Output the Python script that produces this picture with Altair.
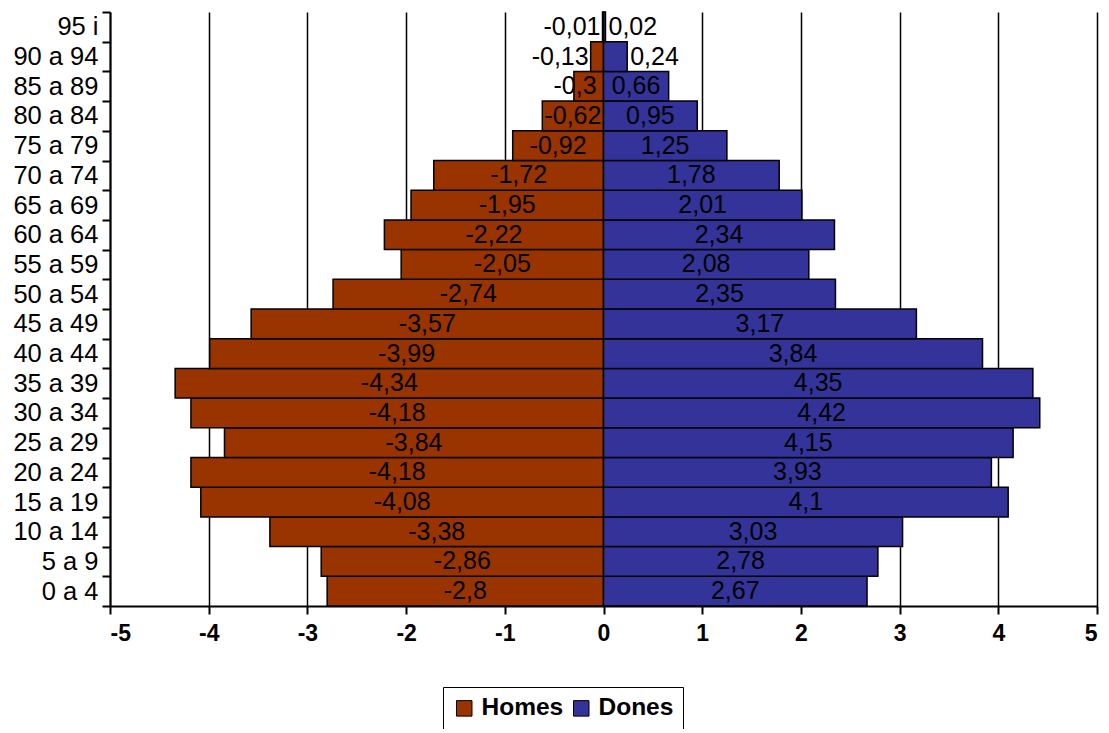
import altair as alt
import pandas as pd

ages = ["0 a 4", "5 a 9", "10 a 14", "15 a 19", "20 a 24", "25 a 29", "30 a 34",
        "35 a 39", "40 a 44", "45 a 49", "50 a 54", "55 a 59", "60 a 64", "65 a 69",
        "70 a 74", "75 a 79", "80 a 84", "85 a 89", "90 a 94", "95 i"]
homes = [-2.8, -2.86, -3.38, -4.08, -4.18, -3.84, -4.18, -4.34, -3.99, -3.57,
         -2.74, -2.05, -2.22, -1.95, -1.72, -0.92, -0.62, -0.3, -0.13, -0.01]
dones = [2.67, 2.78, 3.03, 4.1, 3.93, 4.15, 4.42, 4.35, 3.84, 3.17,
         2.35, 2.08, 2.34, 2.01, 1.78, 1.25, 0.95, 0.66, 0.24, 0.02]
sexes = ["Homes", "Dones"]
colors = ["#993300", "#333399"]
ticks = [-5, -4, -3, -2, -1, 0, 1, 2, 3, 4, 5]

rows = []
for a, h, d in zip(ages, homes, dones):
    rows.append({"age": a, "sex": "Homes", "v": h})
    rows.append({"age": a, "sex": "Dones", "v": d})
df = pd.DataFrame(rows)
order = ages[::-1]

FONT = "Liberation Sans"
LBL = 25

yenc = alt.Y("age:N", sort=order, title=None,
             scale=alt.Scale(paddingInner=0, paddingOuter=0))

base = alt.Chart(df).transform_calculate(
    lab="replace(toString(datum.v), '.', ',')"
)

bars = base.mark_bar(stroke="black", strokeWidth=1.5).encode(
    x=alt.X("v:Q", title=None, scale=alt.Scale(domain=[-5, 5], nice=False),
            axis=alt.Axis(values=ticks, labelExpr="toString(datum.value)")),
    y=yenc,
    color=alt.Color("sex:N", scale=alt.Scale(domain=sexes, range=colors),
                    legend=alt.Legend(title=None, orient="none", legendX=333, legendY=675,
                                      direction="horizontal", strokeColor="black",
                                      padding=9, symbolType="square", symbolSize=240,
                                      symbolStrokeColor="black", symbolStrokeWidth=1,
                                      labelFontSize=24.5, labelFontWeight="bold",
                                      labelFont=FONT, labelOffset=5, columnPadding=5,
                                      labelColor="black")),
)

center = base.transform_filter(
    "abs(datum.v) >= 0.25 && !(datum.v < 0 && datum.v > -0.5)"
).transform_calculate(lx="datum.v / 2").mark_text(
    font=FONT, fontSize=LBL, align="center", baseline="middle", color="black"
).encode(x=alt.X("lx:Q", title=None), y=yenc, text="lab:N")

right = base.transform_filter(
    "datum.v < 0 && datum.v > -0.5"
).transform_calculate(lx="datum.v > -0.25 ? datum.v : -0.05").mark_text(
    font=FONT, fontSize=LBL, align="right", baseline="middle", color="black", dx=-2
).encode(x=alt.X("lx:Q", title=None), y=yenc, text="lab:N")

left = base.transform_filter(
    "datum.v > 0 && datum.v < 0.25"
).transform_calculate(lx="datum.v").mark_text(
    font=FONT, fontSize=LBL, align="left", baseline="middle", color="black", dx=3
).encode(x=alt.X("lx:Q", title=None), y=yenc, text="lab:N")

chart = alt.layer(bars, center, right, left).properties(
    width=987, height=594,
    autosize=alt.AutoSizeParams(type="none"),
    padding={"left": 102, "top": 4, "right": 4, "bottom": 123},
).configure_view(stroke=None).configure_axisX(
    grid=True, gridColor="black", gridWidth=1.5, gridOpacity=1,
    domainColor="black", domainWidth=2, tickColor="black", tickWidth=2, tickSize=8,
    labelFont=FONT, labelFontSize=23, labelFontWeight="bold", labelColor="black",
    labelPadding=8
).configure_axisY(
    tickBand="extent", domainColor="black", domainWidth=2, tickColor="black",
    tickWidth=2, tickSize=8, labelFont=FONT, labelFontSize=25.5, labelColor="black",
    labelPadding=4, grid=False
)

chart.save("out.html", embed_options={"renderer": "svg", "actions": False})
